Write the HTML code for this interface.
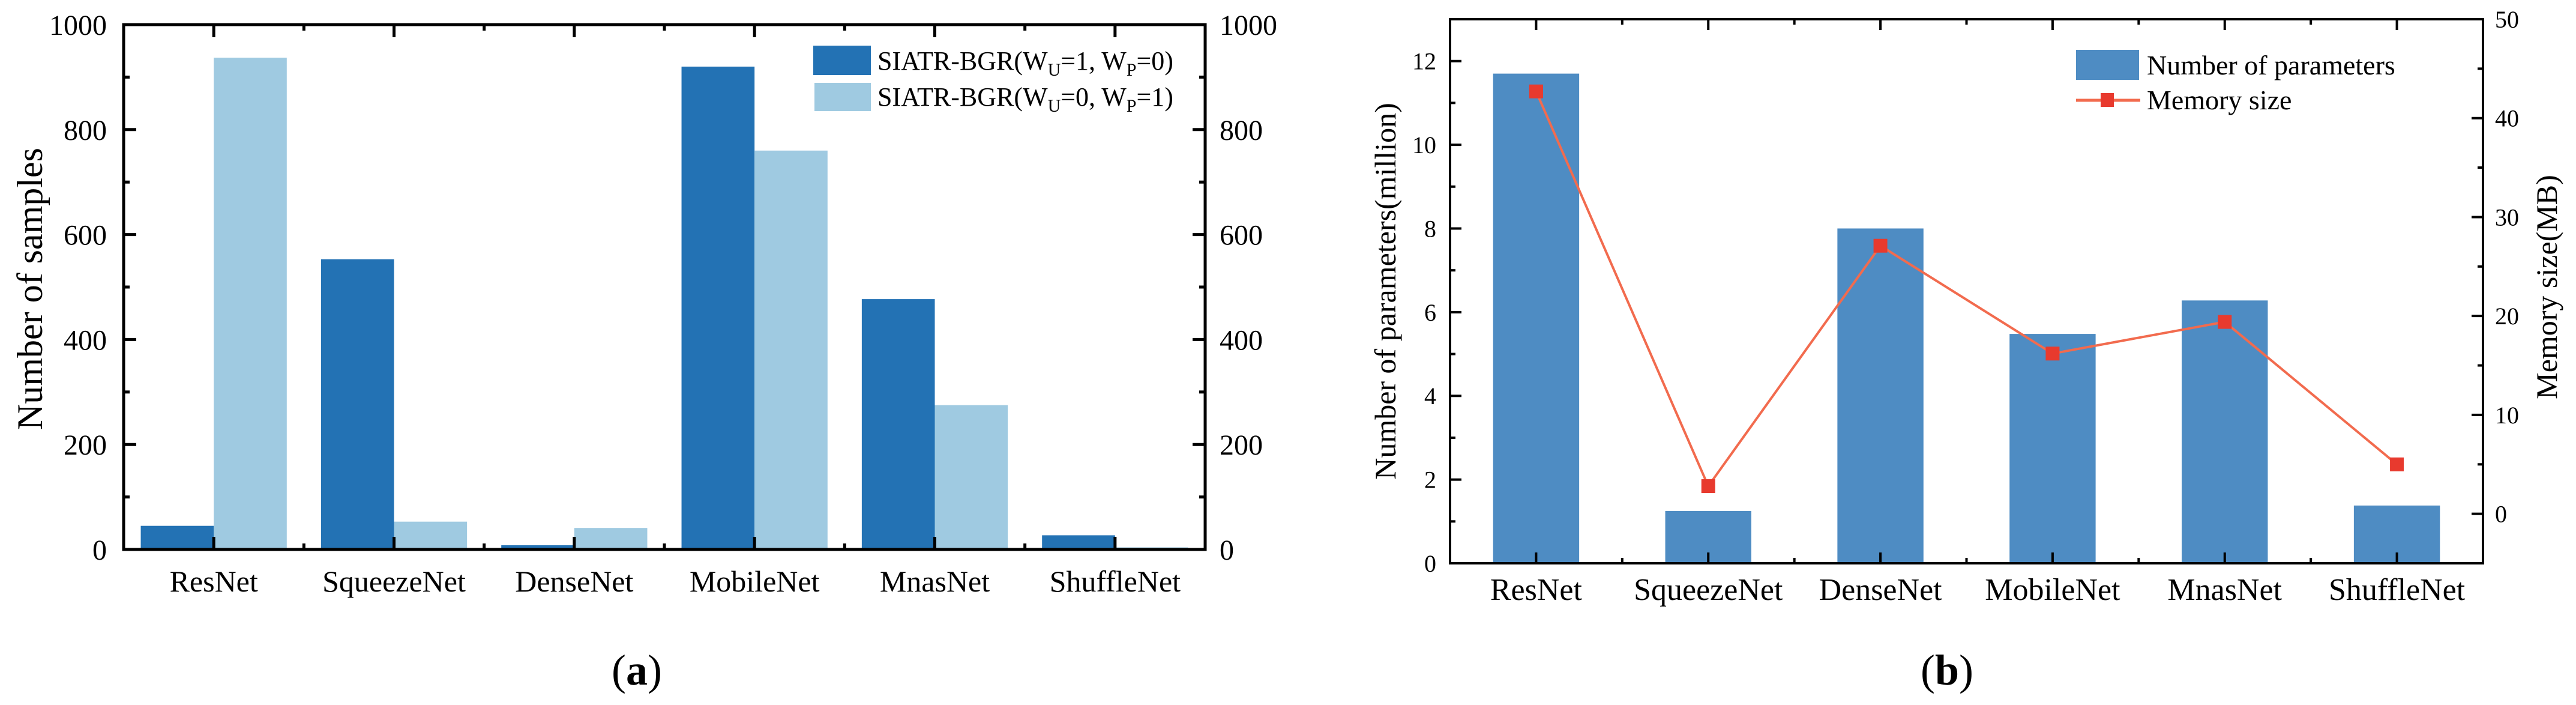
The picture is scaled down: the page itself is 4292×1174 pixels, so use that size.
<!DOCTYPE html>
<html><head><meta charset="utf-8">
<style>
html,body{margin:0;padding:0;background:#fff;}
svg{display:block;}
text{font-family:"Liberation Serif","Times New Roman",serif;fill:#000;}
</style></head>
<body>
<svg id="fig" width="4292" height="1174" viewBox="0 0 4292 1174" xmlns="http://www.w3.org/2000/svg">
  <g id="panelA"></g>
  <g id="panelB"></g>
</svg>
<script>
const categories = ["ResNet","SqueezeNet","DenseNet","MobileNet","MnasNet","ShuffleNet"];
const samplesWU1 = [45, 553, 8, 920, 477, 27];
const samplesWP1 = [937, 53, 41, 760, 275, 4];
const ticksA = [0, 200, 400, 600, 800, 1000];
const paramsMillion = [11.7, 1.25, 8.0, 5.48, 6.28, 1.38];
const memoryMB = [42.7, 2.8, 27.1, 16.2, 19.4, 5.0];
const ticksBLeft = [0, 2, 4, 6, 8, 10, 12];
const ticksBRight = [0, 10, 20, 30, 40, 50];

const NS = "http://www.w3.org/2000/svg";
function mk(parent, tag, attrs, txt) {
  const e = document.createElementNS(NS, tag);
  for (const k in attrs) e.setAttribute(k, attrs[k]);
  if (txt !== undefined) e.textContent = txt;
  parent.appendChild(e);
  return e;
}

/* ---------- Panel (a) ---------- */
(function(){
  const g = document.getElementById('panelA');
  const L = 206, R = 2008, T = 41, B = 915;
  const n = categories.length;
  const xs = i => L + (i + 0.5) * (R - L) / n;
  const unit = (R - L) / n;
  const ys = v => B - (v / 1000) * (B - T);
  const bw = unit * 0.405;
  for (let i = 0; i < n; i++) {
    const r1 = mk(g, 'rect', {x: xs(i) - bw, y: ys(samplesWU1[i]), width: bw, height: B - ys(samplesWU1[i]), fill: '#2372b4'});
    
    
    const r2 = mk(g, 'rect', {x: xs(i), y: ys(samplesWP1[i]), width: bw, height: B - ys(samplesWP1[i]), fill: '#9fcae1'});
    
    
  }
  const frame = mk(g, 'rect', {x: L, y: T, width: R - L, height: B - T, fill: 'none', stroke: '#000', 'stroke-width': 5});
  
  
  // y ticks
  for (let v = 0; v <= 1000; v += 100) {
    const major = v % 200 === 0;
    const len = major ? 21 : 10;
    mk(g, 'line', {x1: L, x2: L + len, y1: ys(v), y2: ys(v), stroke: '#000', 'stroke-width': 5});
    mk(g, 'line', {x1: R, x2: R - len, y1: ys(v), y2: ys(v), stroke: '#000', 'stroke-width': 5});
  }
  ticksA.forEach(v => {
    const t1 = mk(g, 'text', {x: 178, y: ys(v) + 17, 'text-anchor': 'end', 'font-size': 48}, String(v));
    
    
    const t2 = mk(g, 'text', {x: 2032, y: ys(v) + 17, 'text-anchor': 'start', 'font-size': 48}, String(v));
    
    
  });
  // x ticks
  for (let i = 0; i < n; i++) {
    mk(g, 'line', {x1: xs(i), x2: xs(i), y1: T, y2: T + 21, stroke: '#000', 'stroke-width': 5});
    mk(g, 'line', {x1: xs(i), x2: xs(i), y1: B, y2: B - 21, stroke: '#000', 'stroke-width': 5});
    if (i < n - 1) {
      const xm = L + (i + 1) * unit;
      mk(g, 'line', {x1: xm, x2: xm, y1: T, y2: T + 10, stroke: '#000', 'stroke-width': 5});
      mk(g, 'line', {x1: xm, x2: xm, y1: B, y2: B - 10, stroke: '#000', 'stroke-width': 5});
    }
    const t = mk(g, 'text', {x: xs(i), y: 985, 'text-anchor': 'middle', 'font-size': 50}, categories[i]);
    
    
  }
  const yl = mk(g, 'text', {x: 0, y: 0, transform: 'translate(70,481) rotate(-90)', 'text-anchor': 'middle', 'font-size': 60}, 'Number of samples');
  
  
  // legend
  const lg = mk(g, 'g', {});
  
  
  mk(lg, 'rect', {x: 1355, y: 76, width: 96, height: 49, fill: '#2372b4'});
  mk(lg, 'rect', {x: 1357, y: 138, width: 94, height: 47, fill: '#9fcae1'});
  const l1 = mk(lg, 'text', {x: 1462, y: 116, 'font-size': 44});
  l1.innerHTML = 'SIATR-BGR(W<tspan font-size="30" dy="10">U</tspan><tspan dy="-10">=1, W</tspan><tspan font-size="30" dy="10">P</tspan><tspan dy="-10">=0)</tspan>';
  
  
  const l2 = mk(lg, 'text', {x: 1462, y: 176, 'font-size': 44});
  l2.innerHTML = 'SIATR-BGR(W<tspan font-size="30" dy="10">U</tspan><tspan dy="-10">=0, W</tspan><tspan font-size="30" dy="10">P</tspan><tspan dy="-10">=1)</tspan>';
  
  
  const cap = mk(g, 'text', {x: 1061, y: 1140, 'text-anchor': 'middle', 'font-size': 72});
  cap.innerHTML = '(<tspan font-weight="bold">a</tspan>)';
  
  
})();

/* ---------- Panel (b) ---------- */
(function(){
  const g = document.getElementById('panelB');
  const L = 2416, R = 4137, T = 32, B = 938;
  const n = categories.length;
  const unit = (R - L) / n;
  const xs = i => L + (i + 0.5) * unit;
  const yl = v => B - (v / 13) * (B - T);
  const yr = v => B - ((v + 5) / 55) * (B - T);
  const bw = unit * 0.5;
  for (let i = 0; i < n; i++) {
    const r = mk(g, 'rect', {x: xs(i) - bw / 2, y: yl(paramsMillion[i]), width: bw, height: B - yl(paramsMillion[i]), fill: '#4e8cc3'});
    
    
  }
  const pts = memoryMB.map((v, i) => xs(i) + ',' + yr(v)).join(' ');
  const line = mk(g, 'polyline', {points: pts, fill: 'none', stroke: '#f26b4e', 'stroke-width': 4});
  
  
  memoryMB.forEach((v, i) => {
    const m = mk(g, 'rect', {x: xs(i) - 11.5, y: yr(v) - 11.5, width: 23, height: 23, fill: '#e83a2e'});
    
    
  });
  const frame = mk(g, 'rect', {x: L, y: T, width: R - L, height: B - T, fill: 'none', stroke: '#000', 'stroke-width': 4});
  
  
  for (let v = 0; v <= 13; v++) {
    const len = v % 2 === 0 ? 19 : 9;
    mk(g, 'line', {x1: L, x2: L + len, y1: yl(v), y2: yl(v), stroke: '#000', 'stroke-width': 4});
  }
  ticksBLeft.forEach(v => {
    const t = mk(g, 'text', {x: 2393, y: yl(v) + 14, 'text-anchor': 'end', 'font-size': 40}, String(v));
    
    
  });
  for (let v = -5; v <= 50; v += 5) {
    const len = v % 10 === 0 ? 19 : 9;
    mk(g, 'line', {x1: R, x2: R - len, y1: yr(v), y2: yr(v), stroke: '#000', 'stroke-width': 4});
  }
  ticksBRight.forEach(v => {
    const t = mk(g, 'text', {x: 4157, y: yr(v) + 14, 'text-anchor': 'start', 'font-size': 40}, String(v));
    
    
  });
  for (let i = 0; i < n; i++) {
    mk(g, 'line', {x1: xs(i), x2: xs(i), y1: T, y2: T + 18, stroke: '#000', 'stroke-width': 4});
    mk(g, 'line', {x1: xs(i), x2: xs(i), y1: B, y2: B - 18, stroke: '#000', 'stroke-width': 4});
    if (i < n - 1) {
      const xm = L + (i + 1) * unit;
      mk(g, 'line', {x1: xm, x2: xm, y1: T, y2: T + 9, stroke: '#000', 'stroke-width': 4});
      mk(g, 'line', {x1: xm, x2: xm, y1: B, y2: B - 9, stroke: '#000', 'stroke-width': 4});
    }
    const t = mk(g, 'text', {x: xs(i), y: 999, 'text-anchor': 'middle', 'font-size': 52}, categories[i]);
    
    
  }
  const ylt = mk(g, 'text', {x: 0, y: 0, transform: 'translate(2325,485) rotate(-90)', 'text-anchor': 'middle', 'font-size': 50}, 'Number of parameters(million)');
  
  
  const yrt = mk(g, 'text', {x: 0, y: 0, transform: 'translate(4260,478) rotate(-90)', 'text-anchor': 'middle', 'font-size': 50}, 'Memory size(MB)');
  
  
  const lg = mk(g, 'g', {});
  
  
  mk(lg, 'rect', {x: 3459, y: 83, width: 105, height: 50, fill: '#4e8cc3'});
  const lt1 = mk(lg, 'text', {x: 3577, y: 124, 'font-size': 46}, 'Number of parameters');
  
  
  mk(lg, 'line', {x1: 3459, x2: 3566, y1: 167, y2: 167, stroke: '#f26b4e', 'stroke-width': 5});
  mk(lg, 'rect', {x: 3500, y: 155, width: 22, height: 23, fill: '#e83a2e'});
  const lt2 = mk(lg, 'text', {x: 3577, y: 182, 'font-size': 46}, 'Memory size');
  
  
  const cap = mk(g, 'text', {x: 3244, y: 1140, 'text-anchor': 'middle', 'font-size': 72});
  cap.innerHTML = '(<tspan font-weight="bold">b</tspan>)';
  
  
})();
</script>
</body></html>
